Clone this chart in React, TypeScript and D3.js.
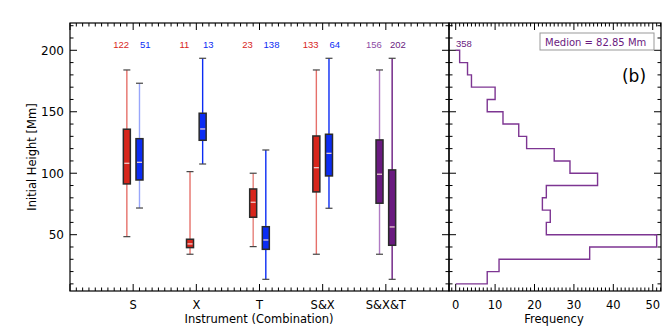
import React from 'react'
import * as d3 from 'd3'

// box plot data
const categories = ['S', 'X', 'T', 'S&X', 'S&X&T']
const firstCounts = [122, 11, 23, 133, 156]
const secondCounts = [51, 13, 138, 64, 202]
// [whisker low, q1, median, q3, whisker high]
const firstStats = [
  [48.4, 91.3, 108.1, 135.8, 184],
  [34.1, 39.5, 42.5, 46.3, 101.3],
  [40.3, 64.2, 76.4, 87.2, 100],
  [34.1, 84.8, 104.5, 130.3, 184],
  [34.1, 75.6, 99.2, 127.1, 184],
]
const secondStats = [
  [71.7, 94.5, 108.9, 128.1, 173.2],
  [107.5, 126.8, 136, 148.8, 193.5],
  [13.7, 38.1, 45.7, 56.5, 118.9],
  [71.5, 97.8, 116.2, 131.7, 193.5],
  [13.7, 41.4, 56.3, 102.7, 193.5],
]

// histogram (b): bins of 10 Mm, bottom to top
const binStarts = [10, 20, 30, 40, 50, 60, 70, 80, 90, 100, 110, 120, 130, 140, 150, 160, 170, 180, 190]
const binCounts = [8, 11, 34, 51, 23, 24, 22, 23, 36, 29, 25, 18, 16, 12, 8, 10, 4, 3, 1]
const totalLabel = '358'
const medianLabel = 'Medion = 82.85 Mm'
const yTicks = [50, 100, 150, 200]
const freqTicks = [0, 10, 20, 30, 40, 50]

const RED = '#d8261c'
const BLUE = '#0b2cf4'
const PURPLE = '#6a1a80'
const HIST = '#7d3592'
const font = "'DejaVu Sans', Verdana, sans-serif"
const smallFont = "'Liberation Sans', Arial, sans-serif"

const boxColors = {
  first: [RED, RED, RED, RED, PURPLE],
  second: [BLUE, BLUE, BLUE, BLUE, PURPLE],
}
const whiskerColors = {
  first: ['#e6706a', '#e6706a', '#e6807a', '#e6706a', '#b07ac4'],
  second: ['#98a6fb', BLUE, BLUE, BLUE, PURPLE],
}
const countColors = {
  first: [RED, RED, RED, RED, '#8e4ca4'],
  second: [BLUE, BLUE, BLUE, BLUE, PURPLE],
}

export default function App() {
  const left = { x0: 70, x1: 449 }
  const right = { x0: 449, x1: 661 }
  const top = 23
  const bottom = 291

  const y = d3.scaleLinear().domain([4.2, 222.2]).range([bottom, top])
  const x = d3.scaleLinear().domain([0, 6]).range([left.x0, left.x1])
  const xf = d3.scaleLinear().domain([-1.7, 52.1]).range([right.x0, right.x1])

  const yMinor = d3.range(10, 221, 10)
  const xMinor = d3.range(0, 60.5, 1).map(d => d / 10)
  const fMinor = d3.range(-1, 53, 1)

  const boxW = 7
  const capW = 7
  const offset = 0.1
  const labelOffset = 0.19

  const drawBox = (s: number[], cx: number, fill: string, wc: string, key: string) => (
    <g key={key}>
      <line x1={cx} x2={cx} y1={y(s[0])} y2={y(s[4])} stroke={wc} strokeWidth={1.4} />
      <line x1={cx - capW / 2} x2={cx + capW / 2} y1={y(s[0])} y2={y(s[0])} stroke="#444" strokeWidth={1.2} />
      <line x1={cx - capW / 2} x2={cx + capW / 2} y1={y(s[4])} y2={y(s[4])} stroke="#444" strokeWidth={1.2} />
      <rect x={cx - boxW / 2} y={y(s[3])} width={boxW} height={y(s[1]) - y(s[3])} fill={fill} stroke="#2a2a2a" strokeWidth={1.5} />
      <line x1={cx - boxW / 2 + 1} x2={cx + boxW / 2 - 1} y1={y(s[2])} y2={y(s[2])} stroke="#f4d8d8" strokeWidth={1.2} />
    </g>
  )

  // step outline of the histogram
  const pts: [number, number][] = []
  for (let i = binStarts.length - 1; i >= 0; i--) {
    if (i === binStarts.length - 1) pts.push([0, binStarts[i] + 10])
    pts.push([binCounts[i], binStarts[i] + 10])
    pts.push([binCounts[i], binStarts[i]])
  }
  pts.push([0, binStarts[0]])
  const histLine = d3.line<[number, number]>().x(d => xf(d[0])).y(d => y(d[1]))

  return (
    <svg width={664} height={336} style={{ position: 'absolute', left: 0, top: 0, background: '#fff' }} fontFamily={font}>
      <rect width={664} height={336} fill="#fff" />

      {/* boxes */}
      {categories.map((c, i) => drawBox(firstStats[i], x(i + 1 - offset), boxColors.first[i], whiskerColors.first[i], 'a' + c))}
      {categories.map((c, i) => drawBox(secondStats[i], x(i + 1 + offset), boxColors.second[i], whiskerColors.second[i], 'b' + c))}

      {/* counts */}
      {categories.map((c, i) => (
        <g key={'n' + c} fontSize={9.5} textAnchor="middle" fontFamily={smallFont}>
          <text x={x(i + 1 - labelOffset)} y={48} fill={countColors.first[i]}>{firstCounts[i]}</text>
          <text x={x(i + 1 + labelOffset)} y={48} fill={countColors.second[i]}>{secondCounts[i]}</text>
        </g>
      ))}

      {/* left frame and ticks */}
      <rect x={left.x0} y={top} width={left.x1 - left.x0} height={bottom - top} fill="none" stroke="#000" strokeWidth={1.2} />
      {yMinor.map(v => {
        const major = v % 50 === 0
        const l = major ? 7 : 3.5
        return (
          <g key={'ly' + v} stroke="#000" strokeWidth={1}>
            <line x1={left.x0} x2={left.x0 + l} y1={y(v)} y2={y(v)} />
            <line x1={left.x1} x2={left.x1 - l} y1={y(v)} y2={y(v)} />
            <line x1={right.x0} x2={right.x0 + l} y1={y(v)} y2={y(v)} />
            <line x1={right.x1} x2={right.x1 - l} y1={y(v)} y2={y(v)} />
          </g>
        )
      })}
      {xMinor.map(v => {
        const major = Math.abs(v - Math.round(v)) < 1e-6
        const l = major ? 7 : 3.5
        return (
          <g key={'lx' + v} stroke="#000" strokeWidth={1}>
            <line x1={x(v)} x2={x(v)} y1={bottom} y2={bottom - l} />
            <line x1={x(v)} x2={x(v)} y1={top} y2={top + l} />
          </g>
        )
      })}
      {yTicks.map(v => (
        <text key={'yt' + v} x={64} y={y(v) + 4.5} fontSize={12} textAnchor="end" fill="#000">{v}</text>
      ))}
      {categories.map((c, i) => (
        <text key={'xt' + c} x={x(i + 1)} y={309} fontSize={11.5} textAnchor="middle" fill="#000">{c}</text>
      ))}
      <text x={259} y={323} fontSize={11.5} textAnchor="middle" fill="#000">Instrument (Combination)</text>
      <text transform={`translate(36,${(top + bottom) / 2}) rotate(-90)`} fontSize={11.5} textAnchor="middle" fill="#000">Initial Height [Mm]</text>

      {/* histogram */}
      <path d={histLine(pts) || ''} fill="none" stroke={HIST} strokeWidth={1.4} />
      <text x={456} y={47} fontSize={9.5} fill={PURPLE} fontFamily={smallFont}>{totalLabel}</text>
      <rect x={540} y={33} width={114} height={17} fill="#fff" stroke="#999" strokeWidth={1} />
      <text x={545} y={45.5} fontSize={10} fill={PURPLE}>{medianLabel}</text>
      <text x={634} y={82} fontSize={17} textAnchor="middle" fill="#000">(b)</text>

      <rect x={right.x0} y={top} width={right.x1 - right.x0} height={bottom - top} fill="none" stroke="#000" strokeWidth={1.2} />
      {fMinor.map(v => {
        const major = v % 10 === 0
        const l = major ? 7 : 3.5
        return (
          <g key={'fx' + v} stroke="#000" strokeWidth={1}>
            <line x1={xf(v)} x2={xf(v)} y1={bottom} y2={bottom - l} />
            <line x1={xf(v)} x2={xf(v)} y1={top} y2={top + l} />
          </g>
        )
      })}
      {freqTicks.map(v => (
        <text key={'ft' + v} x={xf(v)} y={309} fontSize={11.5} textAnchor="middle" fill="#000">{v}</text>
      ))}
      <text x={554} y={323} fontSize={11.5} textAnchor="middle" fill="#000">Frequency</text>
    </svg>
  )
}
